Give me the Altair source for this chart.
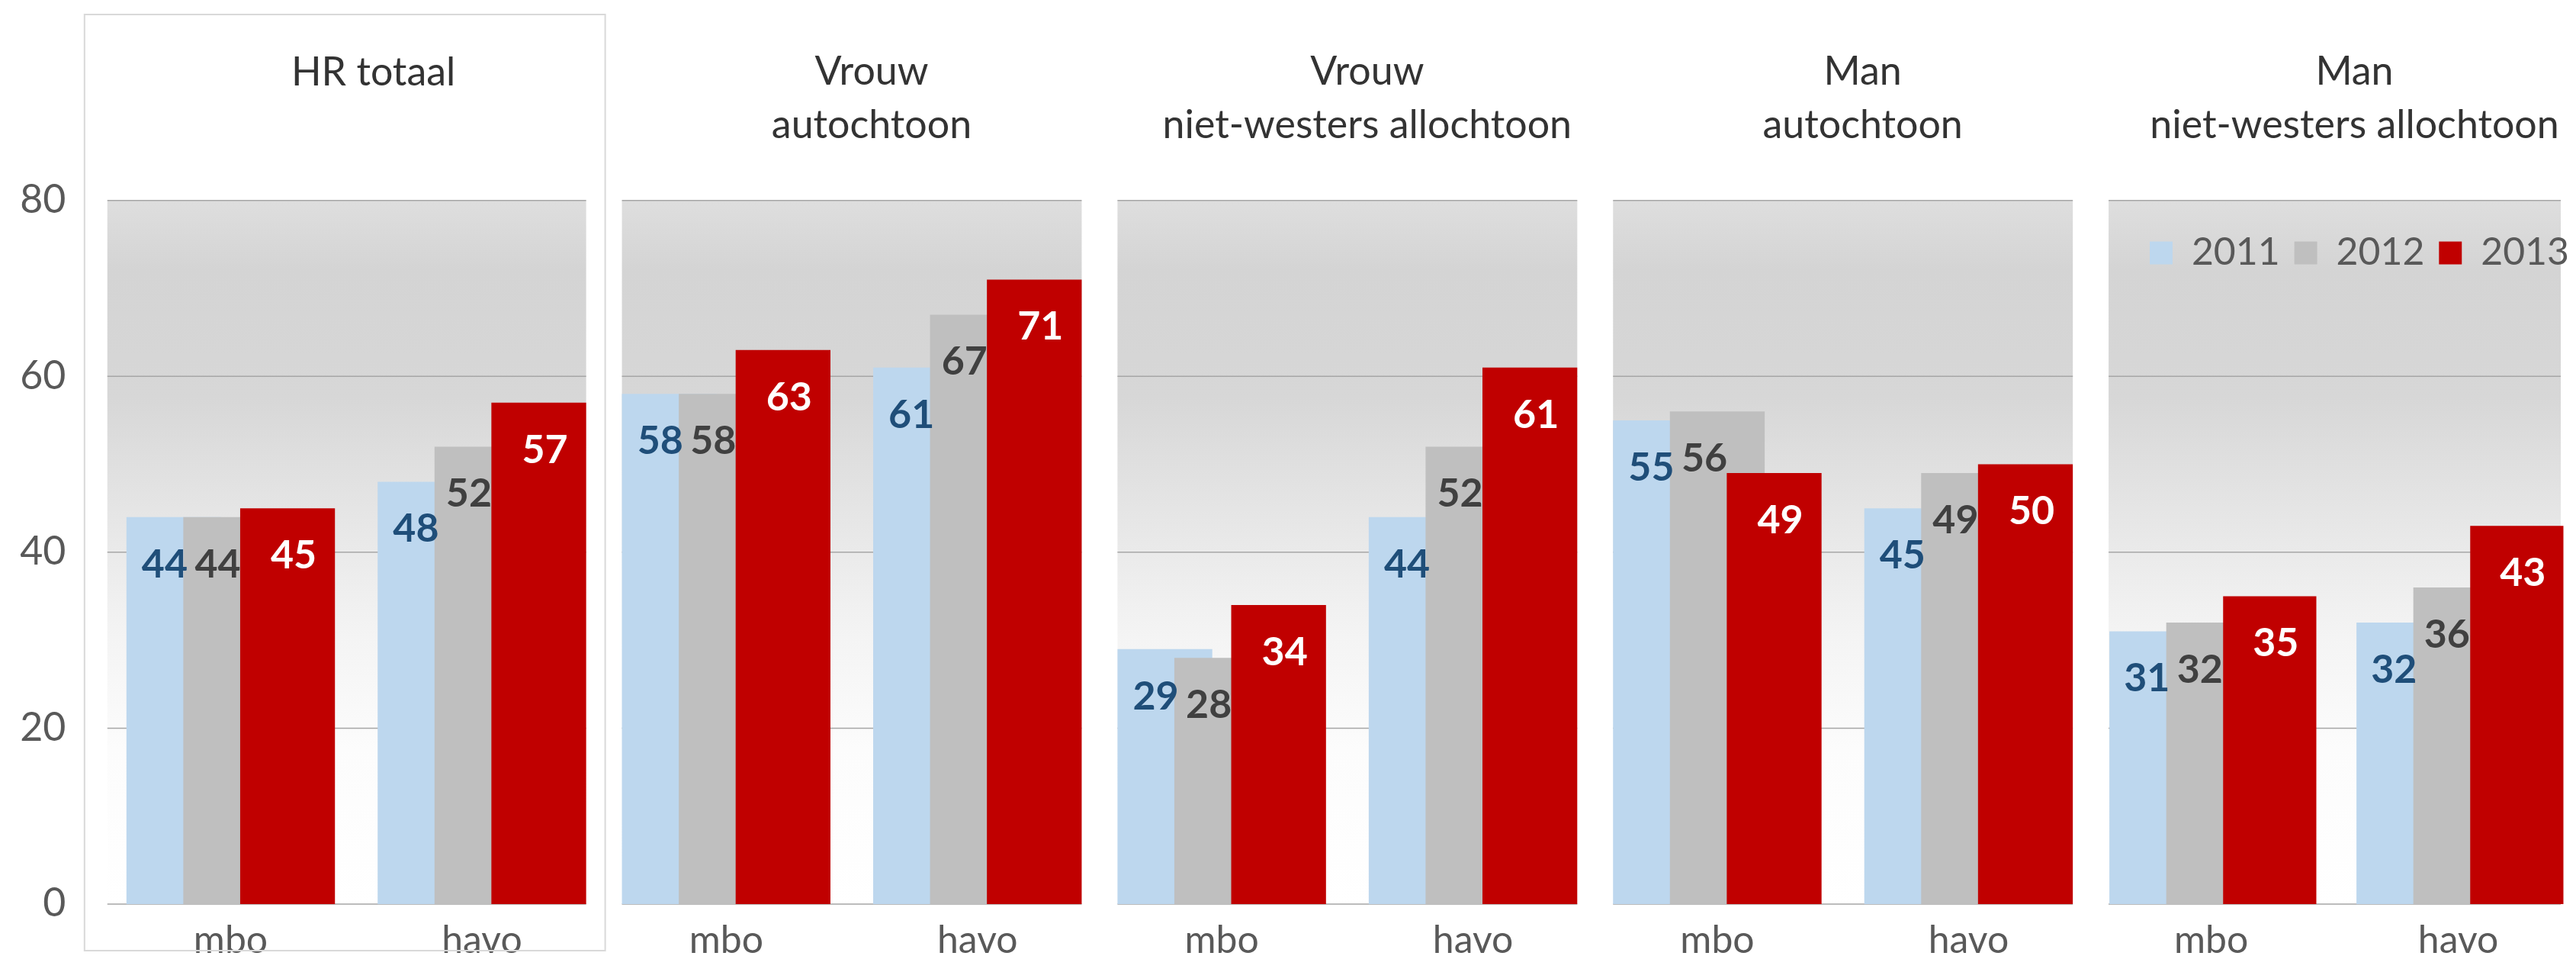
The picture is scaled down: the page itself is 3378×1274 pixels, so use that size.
import altair as alt
import pandas as pd

# ---------------- data ----------------
panel_titles = [
    ["HR totaal", " "],
    ["Vrouw", "autochtoon"],
    ["Vrouw", "niet-westers allochtoon"],
    ["Man", "autochtoon"],
    ["Man", "niet-westers allochtoon"],
]
categories = ["mbo", "havo"]
years = ["2011", "2012", "2013"]

# order: mbo 2011, 2012, 2013, havo 2011, 2012, 2013
hr_totaal = [44, 44, 45, 48, 52, 57]
vrouw_autochtoon = [58, 58, 63, 61, 67, 71]
vrouw_nw_allochtoon = [29, 28, 34, 44, 52, 61]
man_autochtoon = [55, 56, 49, 45, 49, 50]
man_nw_allochtoon = [31, 32, 35, 32, 36, 43]
panel_values = [hr_totaal, vrouw_autochtoon, vrouw_nw_allochtoon,
                man_autochtoon, man_nw_allochtoon]

y_ticks = [0, 20, 40, 60, 80]

# ---------------- styles ----------------
bar_colors = ["#bdd7ee", "#bfbfbf", "#c00000"]
label_colors = ["#1f4e79", "#404040", "#ffffff"]
label_dx = [-12, -17, 8]
FONT = "Lato"
PLOT_H = 924
widths = [629, 604, 604, 604, 594]
PAD_INNER = 0.17
TITLE_OFFSET = 70

gradient = alt.LinearGradient(
    gradient="linear", x1=0, x2=0, y1=0, y2=1,
    stops=[
        alt.GradientStop(color="#dedede", offset=0.0),
        alt.GradientStop(color="#d4d4d4", offset=0.1),
        alt.GradientStop(color="#d7d7d7", offset=0.28),
        alt.GradientStop(color="#e6e6e6", offset=0.45),
        alt.GradientStop(color="#f4f4f4", offset=0.62),
        alt.GradientStop(color="#fcfcfc", offset=0.78),
        alt.GradientStop(color="#ffffff", offset=1.0),
    ],
)


def yenc(field, show_axis):
    axis = alt.Axis(values=y_ticks, format="d", title=None, grid=False,
                    ticks=False, domain=False, labelFontSize=52,
                    labelFont=FONT, labelColor="#595959",
                    labelPadding=55) if show_axis else None
    return alt.Y(f"{field}:Q", stack=None,
                 scale=alt.Scale(domain=[0, 80], nice=False, zero=True),
                 axis=axis)


def make_panel(i):
    vals = panel_values[i]
    df = pd.DataFrame({
        "cat": [c for c in categories for _ in years],
        "year": years * 2,
        "value": vals,
    })
    show_y = i == 0
    first = i == 0
    outer = 0.038 if first else 0
    xscale = alt.Scale(paddingInner=PAD_INNER, paddingOuter=outer,
                       align=1 if first else 0.5)
    # width of one group and of one (overlapping) bar, in pixels
    step = widths[i] / (2 - PAD_INNER + 2 * outer)
    group_w = step * (1 - PAD_INNER)
    bar_w = group_w / 2.2

    x = alt.X("cat:N", sort=categories, scale=xscale,
              axis=alt.Axis(title=None, labelFontSize=50, labelFont=FONT,
                            labelColor="#595959", ticks=False, domain=False,
                            labelPadding=24, labelAngle=0))
    xo = alt.XOffset("year:N", sort=years,
                     scale=alt.Scale(domain=years, paddingInner=0,
                                     paddingOuter=1 / 3))

    bg = alt.Chart(pd.DataFrame({"top": [80], "bottom": [0]})).mark_rect(
        color=gradient).encode(
        x=alt.value(0), x2=alt.value("width"),
        y=yenc("top", show_y), y2="bottom:Q")

    grid = alt.Chart(pd.DataFrame({"tick": y_ticks})).mark_rule(
        color="#a6a6a6", strokeWidth=1.5).encode(y=yenc("tick", show_y))

    legend = None
    if i == 4:
        legend = alt.Legend(orient="none", legendX=44, legendY=44,
                            direction="horizontal", title=None,
                            symbolType="square", symbolSize=900,
                            symbolStrokeWidth=0, symbolOpacity=1,
                            labelFontSize=50, labelFont=FONT,
                            labelColor="#595959", columnPadding=8,
                            labelOffset=15, padding=0)
    bars = alt.Chart(df).mark_bar(width=bar_w).encode(
        x=x, xOffset=xo, y=yenc("value", show_y),
        color=alt.Color("year:N", sort=years,
                        scale=alt.Scale(domain=years, range=bar_colors),
                        legend=legend),
        order=alt.Order("year:N", sort="ascending"),
    )

    layers = [bg, grid, bars]
    for k, yr in enumerate(years):
        txt = alt.Chart(df).transform_filter(alt.datum.year == yr).mark_text(
            font=FONT, fontWeight="bold", fontSize=52, color=label_colors[k],
            dx=label_dx[k], dy=79, baseline="alphabetic", align="center",
        ).encode(x=x, xOffset=xo, y=yenc("value", show_y),
                 text=alt.Text("value:Q", format="d"))
        layers.append(txt)

    title_offset = TITLE_OFFSET
    title_dx = 26
    if first:
        box = alt.Chart(pd.DataFrame({"a": [0]})).mark_rect(
            fillOpacity=0, stroke="#d9d9d9", strokeWidth=2).encode(
            x=alt.value(-30), x2=alt.value(654),
            y=alt.value(-244), y2=alt.value(985))
        layers.append(box)
        title_offset = TITLE_OFFSET - 245
        title_dx = 35

    return alt.layer(*layers).properties(
        width=widths[i], height=PLOT_H,
        title=alt.TitleParams(text=panel_titles[i], fontSize=52, font=FONT,
                              fontWeight="normal", color="#333333",
                              lineHeight=70, anchor="middle", dx=title_dx,
                              offset=title_offset, frame="group"),
    )


chart = alt.hconcat(*[make_panel(i) for i in range(5)], spacing=47,
                    bounds="flush").resolve_legend(color="independent").properties(
    padding={"left": 17, "top": 9, "right": 0, "bottom": 0},
    background="white",
).configure_view(stroke=None)

chart.save("out.html", embed_options={"renderer": "svg", "actions": False})
